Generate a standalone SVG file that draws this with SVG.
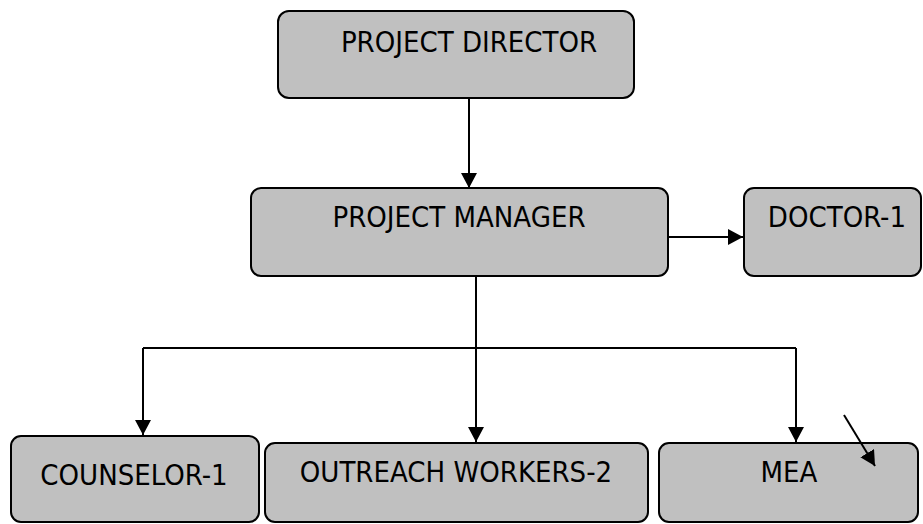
<svg xmlns="http://www.w3.org/2000/svg" width="923" height="524" viewBox="0 0 923 524">
<style>
.box{fill:#c0c0c0;stroke:#000;stroke-width:2}
.lbl{font-family:"DejaVu Sans Condensed","DejaVu Sans",sans-serif;font-size:29px;fill:#000;text-anchor:middle}
.con{fill:none;stroke:#000;stroke-width:2}
</style>
<defs>
<marker id="ah" viewBox="0 0 15 16" refX="15" refY="8" markerWidth="15" markerHeight="16" markerUnits="userSpaceOnUse" orient="auto">
<path d="M0,0 L15,8 L0,16 Z" fill="#000"/>
</marker>
</defs>
<g id="project-director">
<rect class="box" x="278" y="11" width="356" height="87" rx="11"/>
<text class="lbl" x="469" y="52">PROJECT DIRECTOR</text>
</g>
<g id="project-manager">
<rect class="box" x="251" y="188" width="417" height="88" rx="10"/>
<text class="lbl" x="459" y="227">PROJECT MANAGER</text>
</g>
<g id="doctor-1">
<rect class="box" x="744" y="188" width="177" height="88" rx="10"/>
<text class="lbl" x="837" y="227">DOCTOR-1</text>
</g>
<g id="counselor-1">
<rect class="box" x="11" y="436" width="248" height="86" rx="10"/>
<text class="lbl" x="134" y="485">COUNSELOR-1</text>
</g>
<g id="outreach-workers-2">
<rect class="box" x="265" y="443" width="383" height="79" rx="10"/>
<text class="lbl" x="456" y="482">OUTREACH WORKERS-2</text>
</g>
<g id="mea">
<rect class="box" x="659" y="443" width="259" height="79" rx="10"/>
<text class="lbl" x="789" y="482">MEA</text>
</g>
<g id="connectors">
<line class="con" x1="469" y1="99" x2="469" y2="188" marker-end="url(#ah)"/>
<line class="con" x1="669" y1="237" x2="743" y2="237" marker-end="url(#ah)"/>
<line class="con" x1="476" y1="277" x2="476" y2="348"/>
<line class="con" x1="143" y1="348" x2="796" y2="348"/>
<line class="con" x1="143" y1="348" x2="143" y2="435" marker-end="url(#ah)"/>
<line class="con" x1="476" y1="348" x2="476" y2="442" marker-end="url(#ah)"/>
<line class="con" x1="796" y1="348" x2="796" y2="442" marker-end="url(#ah)"/>
<line class="con" x1="844" y1="415" x2="875" y2="466" marker-end="url(#ah)"/>
</g>
</svg>
